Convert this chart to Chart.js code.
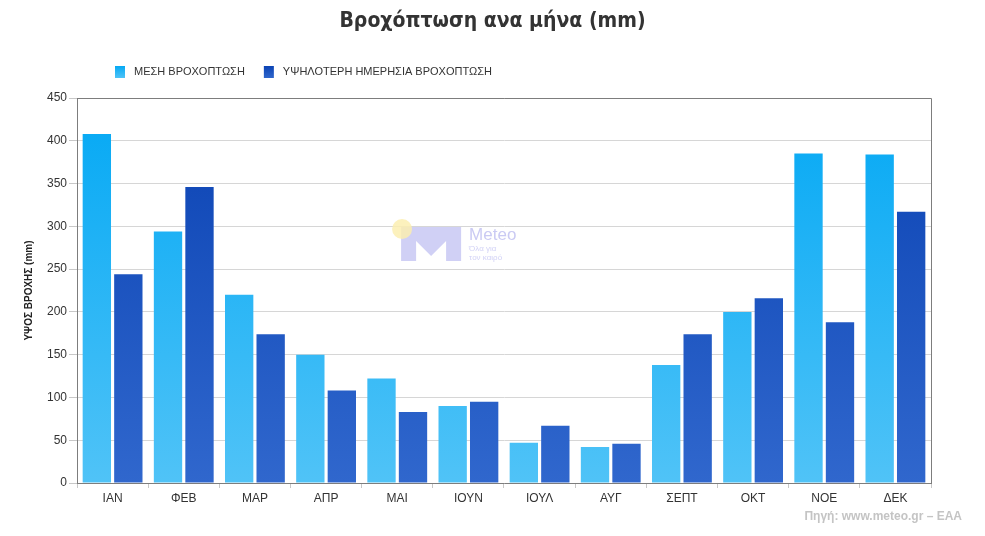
<!DOCTYPE html>
<html>
<head>
<meta charset="utf-8">
<script src="https://cdn.jsdelivr.net/npm/chart.js@4"></script>
<style>
    html, body { margin: 0; padding: 0; background: #fff; }
    .chart-wrap { position: relative; width: 985px; height: 536px; }
</style>
</head>
<body>
<div class="chart-wrap">
    <canvas id="rainChart"></canvas>
</div>
<script>
// Δεδομένα
const months = ['ΙΑΝ', 'ΦΕΒ', 'ΜΑΡ', 'ΑΠΡ', 'ΜΑΙ', 'ΙΟΥΝ', 'ΙΟΥΛ', 'ΑΥΓ', 'ΣΕΠΤ', 'ΟΚΤ', 'ΝΟΕ', 'ΔΕΚ'];
const meanRain = [408, 294, 220, 150, 122, 90, 47, 42, 138, 200, 385, 384];
const maxDailyRain = [244, 346, 174, 108, 83, 95, 67, 46, 174, 216, 188, 317];
const seriesNames = ['ΜΕΣΗ ΒΡΟΧΟΠΤΩΣΗ', 'ΥΨΗΛΟΤΕΡΗ ΗΜΕΡΗΣΙΑ ΒΡΟΧΟΠΤΩΣΗ'];
const yTicks = [0, 50, 100, 150, 200, 250, 300, 350, 400, 450];

const FONT = "'Liberation Sans', Arial, sans-serif";
const TITLE = 'Βροχόπτωση ανα μήνα (mm)';

// Διαβάθμιση χρώματος για τις μπάρες
const makeGradient = (top, bottom) => (context) => {
    const chart = context.chart;
    const area = chart.chartArea;
    if (!area) return top;
    const g = chart.ctx.createLinearGradient(0, area.top, 0, area.bottom);
    g.addColorStop(0, top);
    g.addColorStop(1, bottom);
    return g;
};

// Τίτλος, πλαίσιο, υδατογράφημα, υπόμνημα και πηγή
const decorPlugin = {
    id: 'decor',
    beforeDatasetsDraw(chart) {
        const ctx = chart.ctx;
        const a = chart.chartArea;
        // υδατογράφημα
        const lx = a.left + (a.right - a.left) * 0.3795;
        const ly = a.top + (a.bottom - a.top) * 0.335;
        ctx.save();
        ctx.fillStyle = 'rgba(196, 196, 242, 0.8)';
        ctx.beginPath();
        ctx.moveTo(lx, ly);
        ctx.lineTo(lx + 60, ly);
        ctx.lineTo(lx + 60, ly + 34);
        ctx.lineTo(lx + 45, ly + 34);
        ctx.lineTo(lx + 45, ly + 14);
        ctx.lineTo(lx + 30, ly + 29);
        ctx.lineTo(lx + 15, ly + 14);
        ctx.lineTo(lx + 15, ly + 34);
        ctx.lineTo(lx, ly + 34);
        ctx.closePath();
        ctx.fill();
        ctx.fillStyle = 'rgba(252, 238, 178, 0.85)';
        ctx.beginPath();
        ctx.arc(lx + 1, ly + 2, 10, 0, Math.PI * 2);
        ctx.fill();
        ctx.fillStyle = 'rgba(196, 196, 242, 0.9)';
        ctx.font = '17px ' + FONT;
        ctx.textBaseline = 'alphabetic';
        ctx.fillText('Meteo', lx + 68, ly + 13);
        ctx.fillStyle = 'rgba(205, 205, 245, 0.9)';
        ctx.font = '8px ' + FONT;
        ctx.fillText('Όλα για', lx + 68, ly + 24);
        ctx.fillText('τον καιρό', lx + 68, ly + 33);
        ctx.restore();
    },
    afterDraw(chart) {
        const ctx = chart.ctx;
        const a = chart.chartArea;
        ctx.save();
        // πλαίσιο περιοχής γραφήματος
        ctx.strokeStyle = '#7d7d7d';
        ctx.lineWidth = 1;
        ctx.beginPath();
        ctx.moveTo(a.left, a.top + 0.5);
        ctx.lineTo(a.right + 0.5, a.top + 0.5);
        ctx.lineTo(a.right + 0.5, a.bottom);
        ctx.stroke();

        // τίτλος
        ctx.font = "bold 21px 'DejaVu Sans Condensed', 'DejaVu Sans', sans-serif";
        ctx.fillStyle = '#333';
        ctx.textAlign = 'center';
        ctx.textBaseline = 'middle';
        ctx.fillText(TITLE, chart.width / 2, 22);

        // υπόμνημα
        const colors = [['#05a9f4', '#4fc3f7'], ['#0b43b4', '#2f66cc']];
        let x = 115;
        ctx.font = '11px ' + FONT;
        ctx.textAlign = 'left';
        chart.data.datasets.forEach((ds, i) => {
            const g = ctx.createLinearGradient(0, 66, 0, 78);
            g.addColorStop(0, colors[i][0]);
            g.addColorStop(1, colors[i][1]);
            ctx.fillStyle = g;
            ctx.fillRect(x, 66, 10, 12);
            ctx.fillStyle = '#333';
            ctx.fillText(ds.label, x + 19, 72);
            x += 19 + ctx.measureText(ds.label).width + 19;
        });

        // πηγή
        ctx.font = 'bold 12px ' + FONT;
        ctx.fillStyle = '#c4c4c4';
        ctx.textAlign = 'right';
        ctx.fillText('Πηγή: www.meteo.gr – ΕΑΑ', 962, 517);
        ctx.restore();
    }
};

const ctx = document.getElementById('rainChart').getContext('2d');
const rainChart = new Chart(ctx, {
    type: 'bar',
    data: {
        labels: months,
        datasets: [{
            label: seriesNames[0],
            data: meanRain,
            backgroundColor: makeGradient('#03a8f4', '#50c3f7'),
            borderWidth: 0,
            categoryPercentage: 0.885,
            barPercentage: 0.9
        }, {
            label: seriesNames[1],
            data: maxDailyRain,
            backgroundColor: makeGradient('#0a42b3', '#3067cd'),
            borderWidth: 0,
            categoryPercentage: 0.885,
            barPercentage: 0.9
        }]
    },
    options: {
        responsive: true,
        maintainAspectRatio: false,
        animation: false,
        layout: {
            padding: { top: 98, right: 54, bottom: 0, left: 0 }
        },
        plugins: {
            legend: { display: false },
            tooltip: { enabled: false }
        },
        scales: {
            x: {
                grid: {
                    drawOnChartArea: false,
                    tickLength: 5,
                    tickColor: '#c8c8c8',
                    offset: true
                },
                border: { color: '#7d7d7d', width: 1 },
                ticks: {
                    color: '#333',
                    font: { family: FONT, size: 12 },
                    padding: 3
                },
                afterFit(scale) { scale.height = 53; }
            },
            y: {
                min: 0,
                max: 450,
                afterBuildTicks(scale) {
                    scale.ticks = yTicks.map(v => ({ value: v }));
                },
                grid: {
                    color: '#d6d6d6',
                    tickLength: 8,
                    tickColor: '#c8c8c8'
                },
                border: { color: '#7d7d7d', width: 1 },
                ticks: {
                    color: '#333',
                    font: { family: FONT, size: 12 },
                    padding: 2
                },
                title: {
                    display: true,
                    text: 'ΥΨΟΣ ΒΡΟΧΗΣ (mm)',
                    color: '#222',
                    font: { family: FONT, size: 10, weight: 'bold' },
                    padding: { top: 23, bottom: 0 }
                },
                afterFit(scale) { scale.width = 77; }
            }
        }
    },
    plugins: [decorPlugin]
});
</script>
</body>
</html>
